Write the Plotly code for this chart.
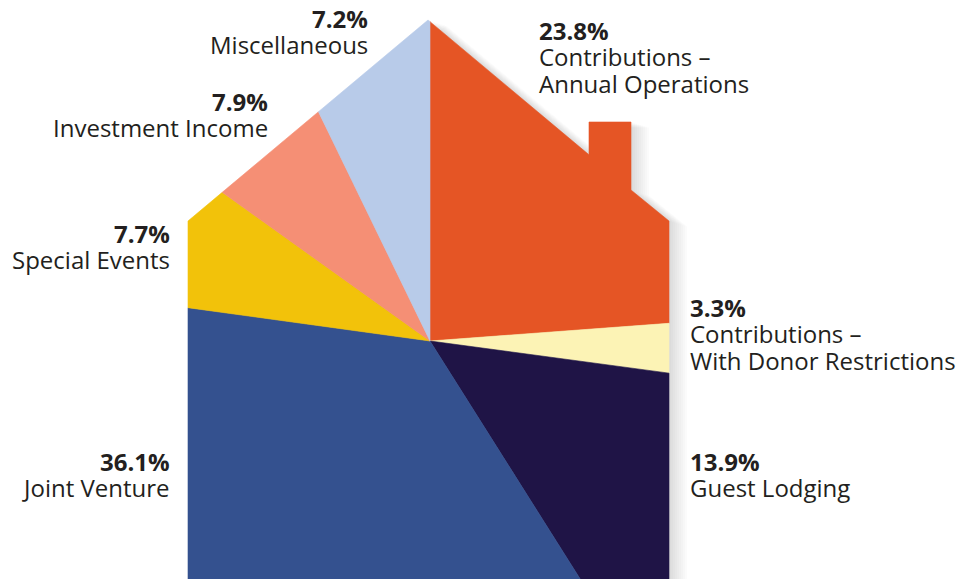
import math
import plotly.graph_objects as go

# ---- data ----
categories = [
    "Contributions –<br>Annual Operations",
    "Contributions –<br>With Donor Restrictions",
    "Guest Lodging",
    "Joint Venture",
    "Special Events",
    "Investment Income",
    "Miscellaneous",
]
shares = [23.8, 3.3, 13.9, 36.1, 7.7, 7.9, 7.2]
pct_labels = ["23.8%", "3.3%", "13.9%", "36.1%", "7.7%", "7.9%", "7.2%"]
colors = ["#E55525", "#FCF3B5", "#1F1446", "#34518F", "#F2C20A", "#F58F75", "#B8CBE9"]

# ---- layout geometry (pixel space) ----
W, H = 962, 579
CX, CY = 430, 341
house = [(428, 20), (589, 154.8), (589, 122), (631, 122), (631, 190),
         (669, 221), (669, 640), (188, 640), (188, 221)]

# label placement: (x, y of first line, anchor)
label_pos = [
    (537, 30, "left"),
    (688, 307, "left"),
    (688, 461, "left"),
    (172, 461, "right"),
    (172, 233, "right"),
    (270, 101, "right"),
    (370, 18, "right"),
]
LINE = 26.5
FSIZE = 24


def wedge_poly(a0, a1, R=3000):
    pts = [(CX, CY)]
    n = max(2, int(abs(a1 - a0) / 2) + 2)
    for i in range(n + 1):
        a = math.radians(a0 + (a1 - a0) * i / n)
        pts.append((CX + R * math.sin(a), CY - R * math.cos(a)))
    return pts


def clip_polygon(subject, clipper):
    # Sutherland-Hodgman; clipper must be convex
    area = 0
    for i in range(len(clipper)):
        x1, y1 = clipper[i]
        x2, y2 = clipper[(i + 1) % len(clipper)]
        area += x1 * y2 - x2 * y1
    sgn = 1 if area > 0 else -1

    def inside(p, a, b):
        return sgn * ((b[0] - a[0]) * (p[1] - a[1]) - (b[1] - a[1]) * (p[0] - a[0])) >= 0

    def inter(p, q, a, b):
        x1, y1 = p; x2, y2 = q; x3, y3 = a; x4, y4 = b
        den = (x1 - x2) * (y3 - y4) - (y1 - y2) * (x3 - x4)
        if den == 0:
            return q
        t = ((x1 - x3) * (y3 - y4) - (y1 - y3) * (x3 - x4)) / den
        return (x1 + t * (x2 - x1), y1 + t * (y2 - y1))

    out = list(subject)
    for i in range(len(clipper)):
        a = clipper[i]
        b = clipper[(i + 1) % len(clipper)]
        inp = out
        out = []
        if not inp:
            break
        s = inp[-1]
        for e in inp:
            if inside(e, a, b):
                if not inside(s, a, b):
                    out.append(inter(s, e, a, b))
                out.append(e)
            elif inside(s, a, b):
                out.append(inter(s, e, a, b))
            s = e
    return out


fig = go.Figure()

total = sum(shares)
ang = 0.0
for cat, v, col in zip(categories, shares, colors):
    span = 360.0 * v / total
    poly = clip_polygon(house, wedge_poly(ang, ang + span))
    ang += span
    xs = [p[0] for p in poly] + [poly[0][0]]
    ys = [p[1] for p in poly] + [poly[0][1]]
    fig.add_trace(go.Scatter(x=xs, y=ys, fill="toself", fillcolor=col, mode="lines",
                             line=dict(width=0.6, color=col), hoverinfo="text",
                             text=cat.replace("<br>", " "), showlegend=False))

# soft drop shadow to the right of the house
shapes = []
for k in range(2, 20, 2):
    path = "M " + " L ".join(f"{x + k},{y + k * 0.3}" for x, y in house) + " Z"
    shapes.append(dict(type="path", path=path, xref="x", yref="y", layer="below",
                       fillcolor="rgba(0,0,0,0.014)", line=dict(width=0)))

annotations = []
FONT = "Open Sans"
TXT = "#231F20"
for (x, y, anc), pct, cat in zip(label_pos, pct_labels, categories):
    annotations.append(dict(x=x, y=y, xref="x", yref="y", text=f"<b>{pct}</b>",
                            showarrow=False, xanchor=anc, yanchor="middle",
                            font=dict(family=FONT, size=FSIZE, color=TXT)))
    for j, line in enumerate(cat.split("<br>")):
        annotations.append(dict(x=x, y=y + LINE * (j + 1), xref="x", yref="y", text=line,
                                showarrow=False, xanchor=anc, yanchor="middle",
                                font=dict(family=FONT, size=FSIZE, color=TXT)))

fig.update_layout(
    width=W, height=H,
    margin=dict(l=0, r=0, t=0, b=0),
    paper_bgcolor="white", plot_bgcolor="white",
    xaxis=dict(range=[0, W], visible=False, fixedrange=True),
    yaxis=dict(range=[H, 0], visible=False, fixedrange=True),
    shapes=shapes, annotations=annotations,
)

fig.write_html("out.html", config={"displayModeBar": False},
               post_script="document.body.style.margin='0';")
